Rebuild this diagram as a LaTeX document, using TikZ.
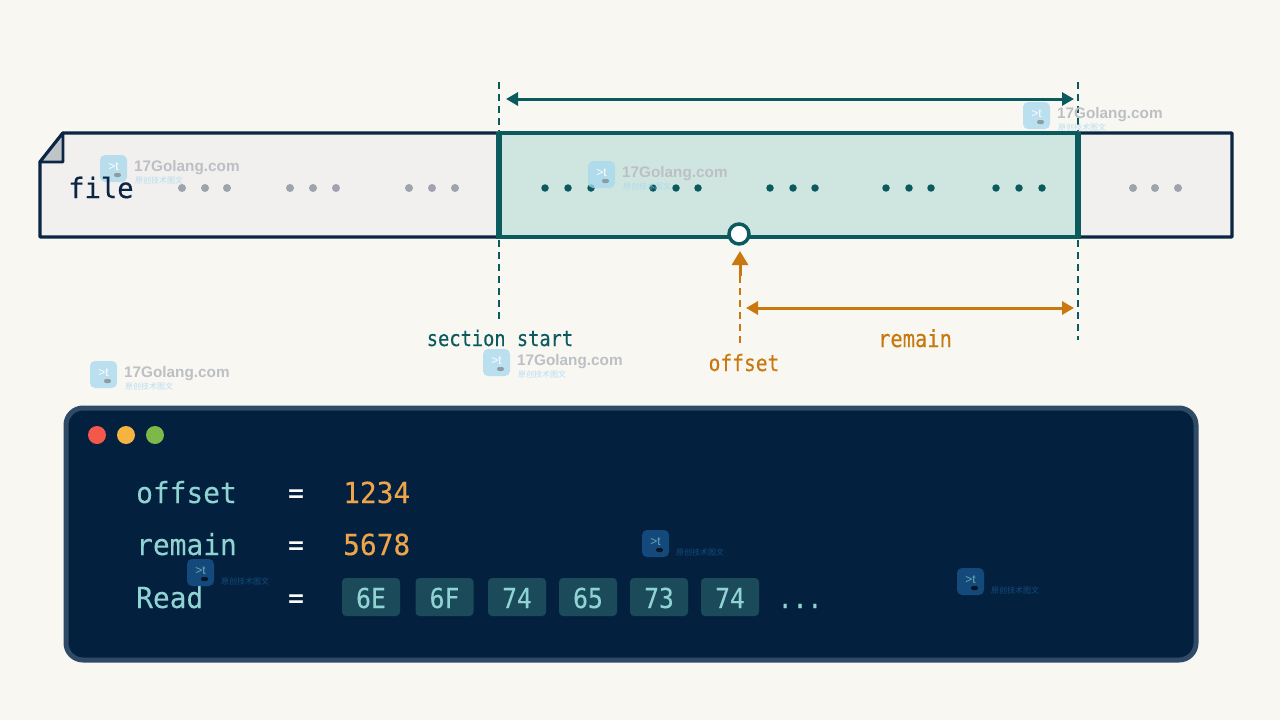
\documentclass[tikz,border=0pt]{standalone}
\usepackage{fontspec}
\setmonofont{DejaVu Sans Mono}
\newfontfamily\nmono[FakeStretch=0.96,FakeBold=0.12]{DejaVu Sans Mono}
\newfontfamily\cmono[FakeStretch=0.90,FakeBold=0.12]{DejaVu Sans Mono}
\newfontfamily\nmonob[FakeStretch=0.87,FakeBold=0.25]{DejaVu Sans Mono}
\newfontfamily\fmono[FakeStretch=0.97,FakeBold=0.3]{DejaVu Sans Mono}
\newfontfamily\cjk{Noto Sans CJK SC}
\newfontfamily\wmfont{Liberation Sans}[BoldFont={Liberation Sans Bold}]
\usetikzlibrary{arrows.meta}
\definecolor{paper}{HTML}{F9F7F2}
\definecolor{navy}{HTML}{0B2545}
\definecolor{teal}{HTML}{0B5A5E}
\definecolor{tealfill}{HTML}{CFE6E0}
\definecolor{filefill}{HTML}{F1F0EE}
\definecolor{greydot}{HTML}{9EA3AD}
\definecolor{foldfill}{HTML}{BFC4C8}
\definecolor{orng}{HTML}{C8780F}
\definecolor{panelfill}{HTML}{03213F}
\definecolor{panelline}{HTML}{2E4A66}
\definecolor{mint}{HTML}{8FD3D3}
\definecolor{amber}{HTML}{EFA44A}
\definecolor{chip}{HTML}{1B4A5A}
\definecolor{wmblue}{HTML}{A5D8EF}
\definecolor{wmtext}{HTML}{BCBFC4}
\definecolor{wmdark}{HTML}{17558A}
\definecolor{lightred}{HTML}{F2594B}
\definecolor{lightamber}{HTML}{F5B342}
\definecolor{lightgreen}{HTML}{7CB94A}
\tikzset{
  x=1pt,y=-1pt,
  monolabel/.style={font=\nmonob\fontsize{#1}{#1}\selectfont,inner sep=0pt,anchor=base},
  gdot/.style={circle,fill=greydot,inner sep=0pt,minimum size=8pt},
  tdot/.style={circle,fill=teal,inner sep=0pt,minimum size=7.5pt},
  chipbox/.style={rounded corners=4pt,fill=chip,minimum width=58pt,minimum height=38pt,inner sep=0pt},
  chiptext/.style={inner sep=0pt,anchor=base,text=mint,font=\cmono\fontsize{27.5}{27.5}\selectfont},
  wmicon/.style={rounded corners=5pt,minimum size=27pt,inner sep=0pt},
  dimteal/.style={teal,line width=3pt,{Triangle[length=12pt,width=13pt]}-{Triangle[length=12pt,width=13pt]}},
  dimorange/.style={orng,line width=3pt,{Triangle[length=12pt,width=13pt]}-{Triangle[length=12pt,width=13pt]}},
  guide/.style={teal,line width=2pt,dash pattern=on 7pt off 5pt},
  key/.style={inner sep=0pt,anchor=base west,text=mint,font=\nmono\fontsize{29}{29}\selectfont},
  eqsign/.style={inner sep=0pt,anchor=base,text=white,font=\nmonob\fontsize{30}{30}\selectfont},
  val/.style={inner sep=0pt,anchor=base west,text=amber,font=\nmono\fontsize{29}{29}\selectfont},
  panelbutton/.style={circle,inner sep=0pt,minimum size=18pt}
}
\newcommand{\lightmark}[3]{%
  \node[wmicon,fill=wmblue,opacity=.75] (#3i) at (#1+13.5,#2+13.5) {};
  \node[text=white,font=\wmfont\fontsize{12}{12}\selectfont,inner sep=0pt] (#3g) at (#1+13.5,#2+11.5) {>t};
  \node[fill=gray,rounded corners=2pt,minimum width=7pt,minimum height=4pt,inner sep=0pt,opacity=.7] (#3p) at (#1+17.5,#2+20) {};
  \node[anchor=west,inner sep=0pt,text=wmtext,font=\wmfont\bfseries\fontsize{15.3}{15.3}\selectfont] (#3t) at (#1+34,#2+13) {17Golang.com};
  \node[anchor=west,inner sep=0pt,text=wmblue,opacity=.8,font=\cjk\fontsize{8}{8}\selectfont] (#3c) at (#1+35,#2+25) {原创技术图文};
}
\newcommand{\darkmark}[3]{%
  \node[wmicon,fill=wmdark,opacity=.8] (#3i) at (#1+13.5,#2+13.5) {};
  \node[text=mint,opacity=.7,font=\wmfont\fontsize{12}{12}\selectfont,inner sep=0pt] (#3g) at (#1+13.5,#2+11.5) {>t};
  \node[fill=black,rounded corners=2pt,minimum width=7pt,minimum height=4pt,inner sep=0pt,opacity=.7] (#3p) at (#1+17.5,#2+20) {};
  \node[anchor=west,inner sep=0pt,text=wmdark,opacity=.8,font=\cjk\fontsize{8}{8}\selectfont] (#3c) at (#1+34,#2+22) {原创技术图文};
}
\begin{document}
\begin{tikzpicture}
\useasboundingbox (0,0) rectangle (1280,720);
\fill[paper] (0,0) rectangle (1280,720);

% file strip
\draw[navy,line width=3.4pt,line join=round,fill=filefill] (63,133) -- (1232,133) -- (1232,237) -- (40,237) -- (40,162) -- cycle;
\draw[navy,line width=2.8pt,line join=round,fill=foldfill] (63,133) -- (63,162) -- (40,162) -- cycle;

% section
\fill[tealfill] (499,133) rectangle (1078,237);
\draw[teal,line width=3.5pt] (499,133) -- (1078,133);
\draw[teal,line width=3.5pt] (499,237) -- (1078,237);
\draw[teal,line width=6pt] (499,131.5) -- (499,238.5);
\draw[teal,line width=6pt] (1078,131.5) -- (1078,238.5);

% guides
\coordinate (gsTop) at (499,82);
\coordinate (gsA) at (499,131);
\coordinate (gsB) at (499,240);
\coordinate (gsBot) at (499,320);
\coordinate (geTop) at (1078,82);
\coordinate (geA) at (1078,131);
\coordinate (geB) at (1078,240);
\coordinate (geBot) at (1078,340);
\draw[guide] (gsTop) -- (gsA);
\draw[guide] (gsB) -- (gsBot);
\draw[guide] (geTop) -- (geA);
\draw[guide] (geB) -- (geBot);

% dimension arrows
\coordinate (secL) at (506,99);
\coordinate (secR) at (1074,99);
\draw[dimteal] (secL) -- (secR);
\coordinate (remL) at (746,308);
\coordinate (remR) at (1074,308);
\draw[dimorange] (remL) -- (remR);

% dots
\foreach \x [count=\i] in {182,205,227,290,313,336,409,432,455,1133,1155,1178}
  \node[gdot] (g\i) at (\x,188) {};
\foreach \x [count=\i] in {545,568,591,653,676,698,770,793,815,886,909,931,996,1019,1042}
  \node[tdot] (t\i) at (\x,188) {};

% watermarks (light)
\lightmark{100}{155}{wa}
\lightmark{588}{161}{wb}
\lightmark{1023}{102}{wc}
\lightmark{90}{361}{wd}
\lightmark{483}{349}{we}

% labels
\node[inner sep=0pt,anchor=base west,text=navy,font=\fmono\fontsize{28}{28}\selectfont] (file) at (68,198) {file};
\node[monolabel=21.5,text=teal] (secstart) at (500,346) {section start};
\node[monolabel=22.5,text=orng] (offlab) at (744,371) {offset};
\node[monolabel=23.5,text=orng] (remlab) at (915,347) {remain};

% offset marker
\node[circle,draw=teal,fill=white,line width=3.5pt,minimum size=20pt,inner sep=0pt] (mark) at (739,234) {};
\coordinate (offBot) at (740,343);
\coordinate (offMid) at (740,276);
\coordinate (offTip) at (740,251);
\draw[orng,line width=2pt,dash pattern=on 7pt off 5pt] (offBot) -- (offMid);
\draw[orng,line width=3pt,-{Triangle[length=14pt,width=16pt]}] (offMid) -- (offTip);

% panel
\draw[panelline,line width=5pt,fill=panelfill,rounded corners=17pt] (66,408) rectangle (1196,660);
\node[panelbutton,fill=lightred] (b1) at (97,435) {};
\node[panelbutton,fill=lightamber] (b2) at (126,435) {};
\node[panelbutton,fill=lightgreen] (b3) at (155,435) {};

\node[key] (k1) at (136,503) {offset};
\node[key] (k2) at (136,555) {remain};
\node[key] (k3) at (136,608) {Read};
\node[eqsign] (e1) at (296,503) {=};
\node[eqsign] (e2) at (296,555) {=};
\node[eqsign] (e3) at (296,608) {=};
\node[val] (v1) at (343,503) {1234};
\node[val] (v2) at (343,555) {5678};

\node[chipbox] (c1) at (371,597) {};
\node[chipbox] (c2) at (444.5,597) {};
\node[chipbox] (c3) at (517,597) {};
\node[chipbox] (c4) at (588,597) {};
\node[chipbox] (c5) at (659,597) {};
\node[chipbox] (c6) at (730,597) {};
\node[chiptext] (c1t) at (371,608) {6E};
\node[chiptext] (c2t) at (444.5,608) {6F};
\node[chiptext] (c3t) at (517,608) {74};
\node[chiptext] (c4t) at (588,608) {65};
\node[chiptext] (c5t) at (659,608) {73};
\node[chiptext] (c6t) at (730,608) {74};
\node[chiptext] (ell) at (800,608) {...};

\darkmark{642}{530}{wf}
\darkmark{187}{559}{wg}
\darkmark{957}{568}{wh}
\end{tikzpicture}
\end{document}
